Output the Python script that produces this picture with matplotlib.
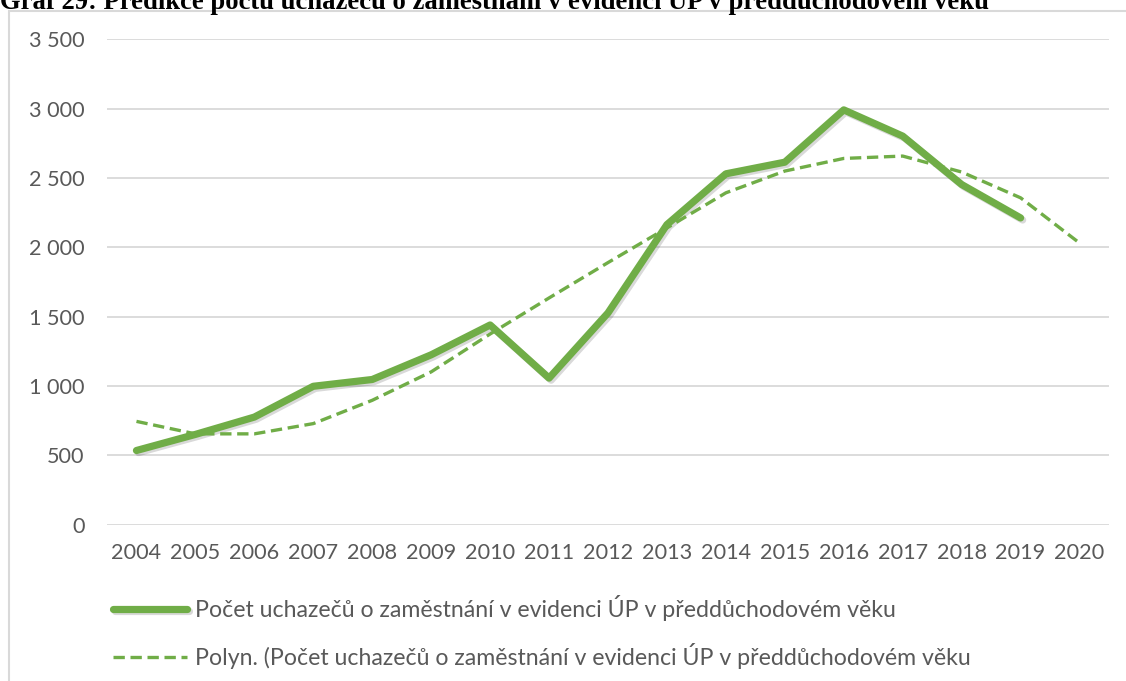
import matplotlib.pyplot as plt
from matplotlib.patches import Rectangle
import matplotlib.patheffects as pe

years = ['2004', '2005', '2006', '2007', '2008', '2009', '2010', '2011', '2012',
         '2013', '2014', '2015', '2016', '2017', '2018', '2019', '2020']
uchazeci = [535, 651, 776, 998, 1047, 1225, 1440, 1057, 1527,
            2164, 2530, 2614, 2991, 2802, 2453, 2212]
trend = [745, 655, 655, 729, 897, 1102, 1375, 1635, 1890,
         2140, 2393, 2550, 2641, 2658, 2543, 2357, 2031]
yticks = [0, 500, 1000, 1500, 2000, 2500, 3000, 3500]
ytick_labels = ['0', '500', '1 000', '1 500', '2 000', '2 500', '3 000', '3 500']

green = '#70ad47'
grey = '#595959'
W, H = 1126, 681

plt.rcParams['font.family'] = ['Lato', 'DejaVu Sans']
fig = plt.figure(figsize=(W / 100, H / 100), dpi=100)
ax = fig.add_axes([107 / W, 1 - 524.7 / H, (1109 - 107) / W, (524.7 - 39.3) / H])

x = list(range(len(years)))
l1, = ax.plot(x[:len(uchazeci)], uchazeci, color=green, lw=5.2, solid_capstyle='round',
              solid_joinstyle='round',
              path_effects=[pe.SimpleLineShadow(offset=(1.5, -1.5), alpha=0.15), pe.Normal()],
              label='Počet uchazečů o zaměstnání v evidenci ÚP v předdůchodovém věku')
l2, = ax.plot(x, trend, color=green, lw=2.4, dashes=(3.4, 1.7),
              label='Polyn. (Počet uchazečů o zaměstnání v evidenci ÚP v předdůchodovém věku')

ax.set_xlim(-0.5, len(years) - 0.5)
ax.set_ylim(0, 3500)
ax.set_xticks(x)
ax.set_xticklabels(years)
ax.set_yticks(yticks)
ax.set_yticklabels(ytick_labels)
ax.grid(axis='y', color='#d9d9d9', lw=1.3)
ax.set_axisbelow(True)
for s in ax.spines.values():
    s.set_visible(False)
ax.tick_params(length=0, labelsize=15.6, labelcolor=grey)
ax.tick_params(axis='y', pad=16)
ax.tick_params(axis='x', pad=13)

leg = fig.legend(handles=[l1, l2], loc='upper left', bbox_to_anchor=(92 / W, 1 - 574 / H),
                 frameon=False, fontsize=16.7, handlelength=3.2, handletextpad=0.35,
                 labelspacing=0.95, labelcolor=grey)

fig.patches.append(Rectangle((9 / W, -0.1), 1.2, 1 - 11 / H + 0.1, transform=fig.transFigure,
                             fill=False, edgecolor='#d9d9d9', lw=1.5))

# the caption above the chart is cropped at the top edge, as in the source image
fig.text(0, 1 - 9 / H, 'Graf 29: Predikce počtu uchazečů o zaměstnání v evidenci ÚP v předdůchodovém věku',
         family='Liberation Serif', weight='bold', fontsize=19.2, va='baseline', ha='left')

fig.savefig('out.png', dpi=100)
